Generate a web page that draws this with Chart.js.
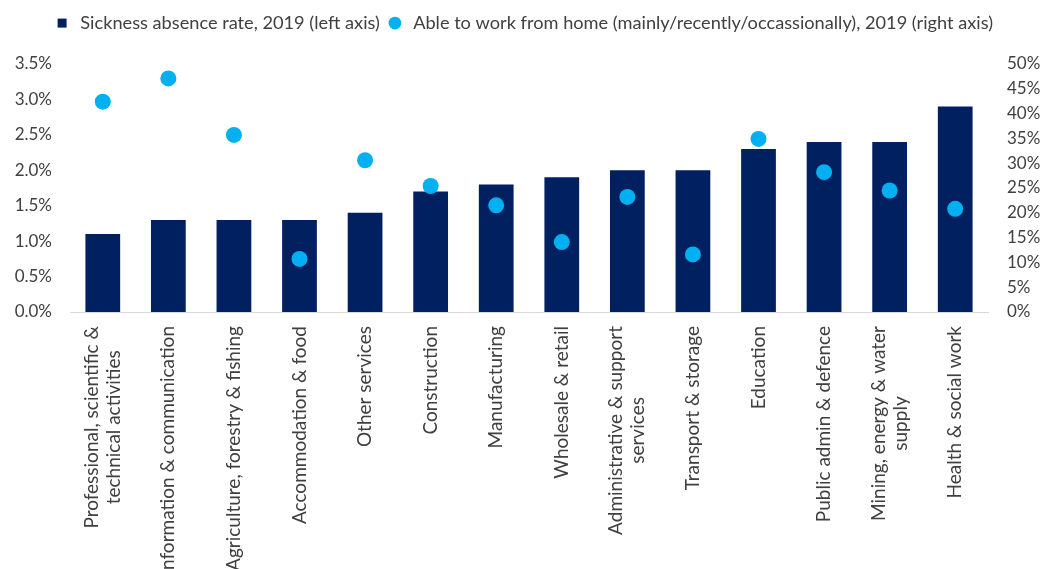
<!DOCTYPE html>
<html>
<head>
<meta charset="utf-8">
<script src="https://cdn.jsdelivr.net/npm/chart.js@4.4.0/dist/chart.umd.min.js"></script>
<style>
  html, body { margin: 0; padding: 0; background: #fff; }
  .widget { width: 1046px; height: 569px; position: relative; }
</style>
</head>
<body>
<div class="widget"><canvas id="absence"></canvas></div>
<script>
// Industry sectors, sorted by sickness absence rate
const sectors = [
  ['Professional, scientific &', 'technical activities'],
  'Information & communication',
  'Agriculture, forestry & fishing',
  'Accommodation & food',
  'Other services',
  'Construction',
  'Manufacturing',
  'Wholesale & retail',
  ['Administrative & support', 'services'],
  'Transport & storage',
  'Education',
  'Public admin & defence',
  ['Mining, energy & water', 'supply'],
  'Health & social work',
];

// Sickness absence rate, 2019 (%), left axis
const absenceRate = [1.1, 1.3, 1.3, 1.3, 1.4, 1.7, 1.8, 1.9, 2.0, 2.0, 2.3, 2.4, 2.4, 2.9];

// Able to work from home, 2019 (%), right axis
const workFromHome = [42.4, 47.1, 35.7, 10.7, 30.6, 25.4, 21.5, 14.1, 23.2, 11.6, 34.9, 28.2, 24.5, 20.8];

const textColor = '#404040';
const tickFont = { family: 'Lato', size: 17 };

// Leave a gap between the legend and the plot
const legendGap = {
  id: 'legendGap',
  beforeInit(chart) {
    const fit = chart.legend.fit;
    chart.legend.fit = function () {
      fit.bind(chart.legend)();
      this.height = 56;
    };
  },
};

// Category labels, rotated, with wrapped lines centred on each other
const sectorLabels = {
  id: 'sectorLabels',
  afterDraw(chart) {
    const { ctx } = chart;
    const x = chart.scales.x;
    const lineHeight = 22;
    ctx.save();
    ctx.font = '19px Lato';
    ctx.fillStyle = textColor;
    ctx.textAlign = 'center';
    ctx.textBaseline = 'middle';
    chart.data.labels.forEach((label, i) => {
      const lines = Array.isArray(label) ? label : [label];
      const longest = Math.max(...lines.map((l) => ctx.measureText(l).width));
      ctx.save();
      ctx.translate(x.getPixelForValue(i), x.top + 14 + longest / 2);
      ctx.rotate(-Math.PI / 2);
      lines.forEach((line, j) => {
        ctx.fillText(line, 0, (j - (lines.length - 1) / 2) * lineHeight);
      });
      ctx.restore();
    });
    ctx.restore();
  },
};

const ctx = document.getElementById('absence').getContext('2d');

new Chart(ctx, {
  type: 'bar',
  data: {
    labels: sectors,
    datasets: [
      {
        label: 'Sickness absence rate, 2019 (left axis)',
        data: absenceRate,
        backgroundColor: '#002060',
        yAxisID: 'y',
        barPercentage: 0.53,
        categoryPercentage: 1,
        pointStyle: 'rect',
        order: 2,
      },
      {
        type: 'line',
        label: 'Able to work from home (mainly/recently/occassionally), 2019 (right axis)',
        data: workFromHome,
        yAxisID: 'y1',
        showLine: false,
        pointStyle: 'circle',
        pointRadius: 8,
        pointHoverRadius: 8,
        pointBorderWidth: 0,
        backgroundColor: '#00B0F0',
        borderColor: '#00B0F0',
        order: 1,
      },
    ],
  },
  plugins: [legendGap, sectorLabels],
  options: {
    responsive: true,
    maintainAspectRatio: false,
    animation: false,
    layout: { padding: { top: 8, left: 0, right: 0, bottom: 0 } },
    plugins: {
      legend: {
        position: 'top',
        labels: {
          usePointStyle: true,
          boxHeight: 9,
          padding: 6,
          color: textColor,
          font: { family: 'Lato', size: 18.2 },
          sort: (a, b) => a.datasetIndex - b.datasetIndex,
        },
      },
      tooltip: { enabled: false },
    },
    scales: {
      x: {
        grid: { display: false, drawTicks: false },
        border: { color: '#D9D9D9', width: 1 },
        ticks: { display: false, autoSkip: false },
        afterFit: (scale) => { scale.height = 257; },
      },
      y: {
        position: 'left',
        min: 0,
        max: 3.5,
        grid: { display: false, drawTicks: false },
        border: { display: false },
        ticks: {
          stepSize: 0.5,
          padding: 18,
          color: textColor,
          font: tickFont,
          callback: (v) => v.toFixed(1) + '%',
        },
        afterFit: (scale) => { scale.width = 70; },
      },
      y1: {
        position: 'right',
        min: 0,
        max: 50,
        grid: { display: false, drawTicks: false },
        border: { display: false },
        ticks: {
          stepSize: 5,
          padding: 19,
          color: textColor,
          font: tickFont,
          callback: (v) => v + '%',
        },
        afterFit: (scale) => { scale.width = 58; },
      },
    },
  },
});
</script>
</body>
</html>
